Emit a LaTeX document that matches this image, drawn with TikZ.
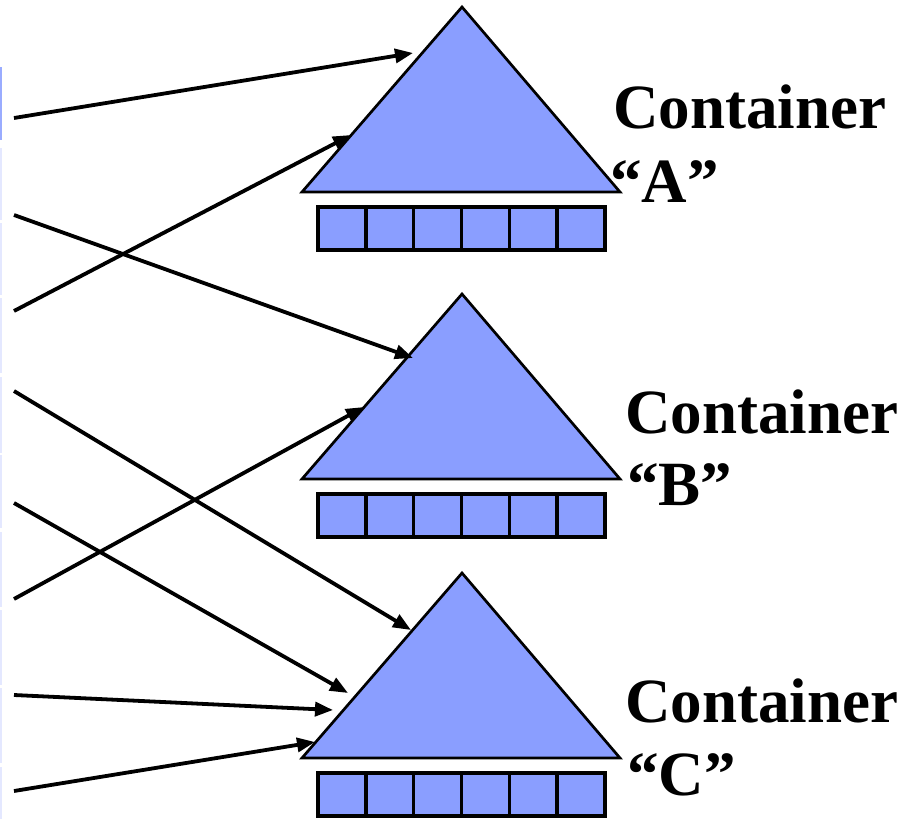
\documentclass[tikz,border=0pt]{standalone}
\usepackage{fontspec}
\setmainfont{Liberation Serif}
\usetikzlibrary{arrows.meta}
\definecolor{contfill}{HTML}{8A9EFF}
\definecolor{edgeA}{HTML}{9AACFF}
\definecolor{edgeB}{HTML}{E4E8FF}
\tikzset{
  tri/.style={fill=contfill, draw=black, line width=2.7pt, line join=miter},
  cell/.style={fill=contfill, draw=black, line width=3.4pt},
  ptr/.style={line width=3.8pt, -{Triangle[length=18pt,width=14pt]}},
  lbl/.style={inner sep=0pt, anchor=base west, font=\bfseries\fontsize{63}{73}\selectfont},
}
\begin{document}
\begin{tikzpicture}[x=1pt,y=-1pt]
\useasboundingbox (0,0) rectangle (916,819);
% faint remnants at the left edge
\fill[edgeA] (0,67) rectangle (2,140);
\foreach \a/\b in {148/220,223/295,298/373,377/453,455/528,532/607,610/685,688/763,767/819}
  \fill[edgeB] (0,\a) rectangle (2,\b);
% containers
\foreach \n/\ap in {A/7,B/294,C/573}{
  \draw[tri] (462,\ap) coordinate (apex\n) -- (620,\ap+185) coordinate (br\n) -- (302,\ap+185) coordinate (bl\n) -- cycle;
  \foreach \i in {0,...,5}
    \draw[cell] ({318+\i*47.8},\ap+200) rectangle ({318+(\i+1)*47.8},\ap+243);
}
\node[lbl] (labA1) at (613,128) {Container};
\node[lbl] (labA2) at (610,202) {“A”};
\node[lbl] (labB1) at (625,433) {Container};
\node[lbl] (labB2) at (627,505) {“B”};
\node[lbl] (labC1) at (625,722) {Container};
\node[lbl] (labC2) at (627,795) {“C”};
% pointer start and end points
\coordinate (s1) at (14,118); \coordinate (t1) at (413,53);
\coordinate (s2) at (14,215); \coordinate (t2) at (413,358);
\coordinate (s3) at (14,311); \coordinate (t3) at (351,135);
\coordinate (s4) at (14,391); \coordinate (t4) at (411,630);
\coordinate (s5) at (14,503); \coordinate (t5) at (348,693);
\coordinate (s6) at (14,599); \coordinate (t6) at (364,407);
\coordinate (s7) at (14,695); \coordinate (t7) at (333,710);
\coordinate (s8) at (14,791); \coordinate (t8) at (315,742);
\foreach \k in {1,...,8}
  \draw[ptr] (s\k) -- (t\k);
\end{tikzpicture}
\end{document}
